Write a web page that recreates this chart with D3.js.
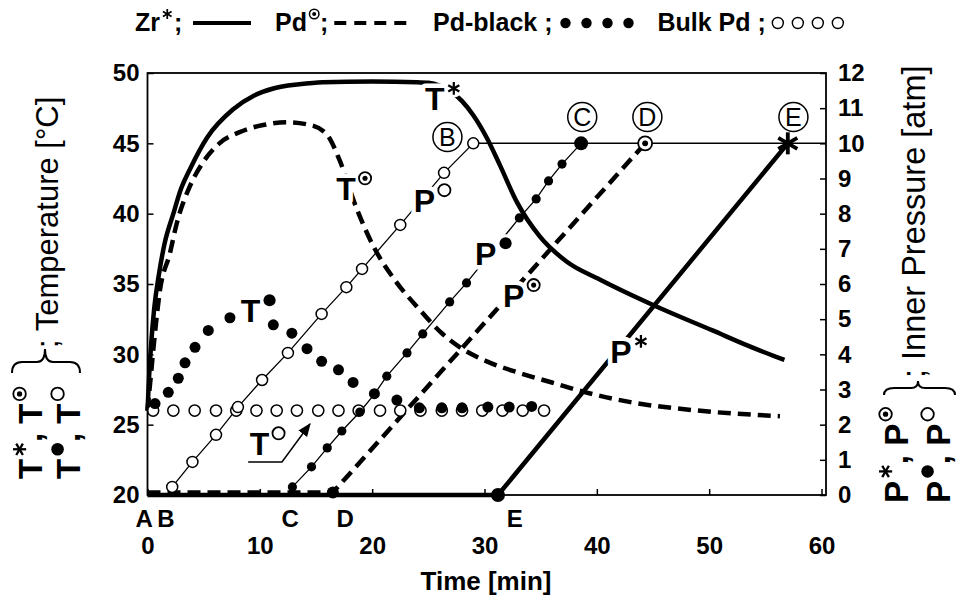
<!DOCTYPE html>
<html lang="en">
<head>
<meta charset="UTF-8">
<title>Temperature and inner pressure vs time</title>
<script src="https://d3js.org/d3.v7.min.js"></script>
<style>
body{margin:0;background:#fff;}
svg{display:block;background:#fff;}
text{font-family:"Liberation Sans",Arial,sans-serif;fill:#000;}
.tick text{font-size:24px;font-weight:bold;}
.tick line{stroke:#000;stroke-width:1.5;}
.halo{stroke:#fff;stroke-width:9;stroke-linejoin:round;paint-order:stroke;}
</style>
</head>
<body>
<svg width="961" height="606"></svg>
<script>
// ---- data ----
const timeTicks = [0, 10, 20, 30, 40, 50, 60];
const tempTicks = [20, 25, 30, 35, 40, 45, 50];
const pressTicks = [0, 1, 2, 3, 4, 5, 6, 7, 8, 9, 10, 11, 12];

// temperature curves [time, degC]
const zrTemp = [[0,26],[0.15,28.5],[0.35,31],[0.6,33.3],[1.0,35.6],[1.5,37.8],[2.3,40.0],[3.0,41.8],[3.8,43.2],
  [5.3,45.4],[7.6,47.4],[9.5,48.4],[11.2,48.9],[13.5,49.2],[15.6,49.35],[20,49.4],[24,49.35],[25,49.3],[26,49.1],
  [27,48.7],[28,48.0],[29,47.0],[30.2,45.4],[31.4,43.4],[32.9,40.8],[34.9,38.4],[37.3,36.6],[40.3,35.3],
  [45.3,33.4],[50.3,31.7],[53.5,30.6],[56.7,29.6]];
const pdTemp = [[0,26],[0.3,28.5],[0.6,31],[1.1,34.5],[2.0,37.2],[2.6,39.3],[3.8,42.0],[4.9,43.6],[6.4,45.0],
  [8.2,45.8],[10.3,46.3],[12.4,46.5],[14.5,46.3],[16,45.6],[17.1,43.8],[18.6,40.4],[20.1,37.7],[22,35.3],
  [24.2,33.2],[26.2,31.5],[28,30.4],[30.2,29.5],[33,28.7],[36,28.0],[39,27.3],[43,26.6],[49,26.0],[56.3,25.6]];
const blackTemp = [[0.67,26.5],[1.85,27.3],[2.74,28.3],[3.34,29.4],[4.23,30.5],[5.41,31.7],[7.34,32.6],
  [11.2,32.1],[12.85,31.5],[14.2,30.4],[15.5,29.5],[17.0,28.9],[18.3,28.0],[20.2,27.2],[22.2,26.75],
  [24.2,26.2],[26.2,26.2],[28.0,26.2],[30.3,26.25],[32.2,26.25],[34.2,26.3]];
const bulkTemp = [[0.5,26],[2.3,26],[4.2,26],[6.1,26],[7.9,26],[9.7,26],[11.5,26],[13.3,26],[15.2,26],[17.0,26],
  [18.8,26],[20.7,26],[22.5,26],[24.3,26],[26.2,26],[28.0,26],[29.8,26],[31.6,26],[33.4,26],[35.3,26]];

// pressure curves [time, atm]
const bulkPress = [[2.2,0.23],[4.0,0.94],[6.1,1.71],[8.05,2.5],[10.2,3.27],[12.5,4.04],[15.5,5.15],[17.7,5.91],
  [19.1,6.43],[22.5,7.68],[26.4,9.16],[29.0,10.0]];
const blackPress = [[12.9,0.23],[14.6,0.8],[16.0,1.34],[17.3,1.82],[18.9,2.36],[20.2,2.87],[21.3,3.38],[23.1,4.04],
  [24.5,4.58],[26.9,5.49],[28.4,6.03],[33.1,7.88],[34.6,8.42],[35.7,8.93],[36.9,9.41],[38.6,10.0]];
const pdPress = [[0,0.07],[16.5,0.07],[44.3,10]];
const zrPress = [[0,0],[31.2,0],[57.0,10]];
const limitLine = [[29.0,10],[60.4,10]];

// start letters under the axis [letter, time] and circled end letters [letter, time, atm]
const startLetters = [["A",-0.3],["B",1.65],["C",12.7],["D",17.6],["E",32.7]];
const endLetters = [["B",26.7,10.18],["C",38.7,10.75],["D",44.5,10.75],["E",57.5,10.75]];

// in-plot labels [letter, mark, time, value, axis]
const curveLabels = [["T","*",24.7,47.36,"T"],["T","d",16.8,40.97,"T"],["T","f",8.3,32.3,"T"],["T","o",9.1,22.84,"T"],
  ["P","o",23.7,8.05,"P"],["P","f",29.15,6.54,"P"],["P","d",31.65,5.35,"P"],["P","*",41.2,3.75,"P"]];
const arrowPts = [[8.96,22.35],[11.97,22.35],[14.46,25.05]];

// ---- scales ----
const svg = d3.select("svg");
const x = d3.scaleLinear().domain([0, 60.4]).range([147.5, 826]);
const yT = d3.scaleLinear().domain([20, 50]).range([495, 73]);
const yP = d3.scaleLinear().domain([0, 12]).range([495, 73]);

svg.append("defs").append("marker").attr("id","arr").attr("viewBox","0 0 10 10")
  .attr("refX",9).attr("refY",5).attr("markerWidth",9).attr("markerHeight",9).attr("orient","auto")
  .append("path").attr("d","M0,1L10,5L0,9z").attr("fill","#000");

function drawMark(g, kind, cx, cy, r, sw) {
  sw = sw || 1.5;
  if (kind === "o") {
    g.append("circle").attr("cx",cx).attr("cy",cy).attr("r",r).attr("fill","#fff").attr("stroke","#000").attr("stroke-width",sw);
  } else if (kind === "f") {
    g.append("circle").attr("cx",cx).attr("cy",cy).attr("r",r).attr("fill","#000");
  } else if (kind === "d") {
    g.append("circle").attr("cx",cx).attr("cy",cy).attr("r",r).attr("fill","#fff").attr("stroke","#000").attr("stroke-width",sw);
    g.append("circle").attr("cx",cx).attr("cy",cy).attr("r",r*0.42).attr("fill","#000");
  } else {
    [90, 30, 150].forEach(a => {
      const dx = r*Math.cos(a*Math.PI/180), dy = r*Math.sin(a*Math.PI/180);
      g.append("line").attr("x1",cx-dx).attr("y1",cy-dy).attr("x2",cx+dx).attr("y2",cy+dy)
        .attr("stroke","#000").attr("stroke-width",Math.max(sw, r*0.35));
    });
  }
}

// letter with a superscript mark, returns end x
function symLabel(g, x0, y0, letter, mark, fs, halo) {
  const t = g.append("text").attr("x",x0).attr("y",y0).attr("font-size",fs).attr("font-weight","bold").text(letter);
  if (halo) t.attr("class","halo");
  const w = t.node().getComputedTextLength();
  const r = fs*0.19;
  const cx = x0 + w + fs*0.1 + r, cy = y0 - fs*0.68;
  if (halo) g.append("circle").attr("cx",cx).attr("cy",cy).attr("r",r+3).attr("fill","#fff");
  drawMark(g, mark, cx, cy, mark === "*" ? r*1.05 : r, fs > 30 ? 1.8 : 1.5);
  return cx + r;
}

// ---- curves ----
const lineT = d3.line().x(d => x(d[0])).y(d => yT(d[1])).curve(d3.curveMonotoneX);
const lineP = d3.line().x(d => x(d[0])).y(d => yP(d[1]));
const plot = svg.append("g");

plot.append("path").datum(limitLine).attr("d",lineP).attr("fill","none").attr("stroke","#000").attr("stroke-width",1.5);
plot.append("path").datum(zrTemp).attr("d",lineT).attr("fill","none").attr("stroke","#000").attr("stroke-width",4.5);
plot.append("path").datum(pdTemp).attr("d",lineT).attr("fill","none").attr("stroke","#000").attr("stroke-width",4.5)
  .attr("stroke-dasharray","13,7");
plot.append("path").datum(bulkPress).attr("d",lineP).attr("fill","none").attr("stroke","#000").attr("stroke-width",1.3);
plot.append("path").datum(blackPress).attr("d",lineP).attr("fill","none").attr("stroke","#000").attr("stroke-width",1.3);
plot.append("path").datum(pdPress).attr("d",lineP).attr("fill","none").attr("stroke","#000").attr("stroke-width",4.5)
  .attr("stroke-dasharray","13,7");
plot.append("path").datum(zrPress).attr("d",lineP).attr("fill","none").attr("stroke","#000").attr("stroke-width",4.5);

plot.selectAll(".bt").data(bulkTemp).join("circle").attr("class","bt")
  .attr("cx",d => x(d[0])).attr("cy",d => yT(d[1])).attr("r",5.6)
  .attr("fill","#fff").attr("stroke","#000").attr("stroke-width",1.5);
plot.selectAll(".bk").data(blackTemp).join("circle").attr("class","bk")
  .attr("cx",d => x(d[0])).attr("cy",d => yT(d[1])).attr("r",5.5).attr("fill","#000");
plot.selectAll(".bp").data(bulkPress).join("circle").attr("class","bp")
  .attr("cx",d => x(d[0])).attr("cy",d => yP(d[1])).attr("r",5.5)
  .attr("fill","#fff").attr("stroke","#000").attr("stroke-width",1.5);
plot.selectAll(".kp").data(blackPress).join("circle").attr("class","kp")
  .attr("cx",d => x(d[0])).attr("cy",d => yP(d[1])).attr("r",(d,i) => i === blackPress.length-1 ? 7 : 4.6)
  .attr("fill","#000");

// start / end markers of the thick pressure lines
drawMark(plot, "f", x(pdPress[1][0]), yP(pdPress[1][1]), 6);
drawMark(plot, "d", x(pdPress[2][0]), yP(pdPress[2][1]), 7, 1.8);
drawMark(plot, "f", x(zrPress[1][0]), yP(zrPress[1][1]), 7);
drawMark(plot, "*", x(zrPress[2][0]), yP(zrPress[2][1]), 11, 3.5);

// arrow to the T(bulk) row
plot.append("path").datum(arrowPts).attr("d",lineT.curve(d3.curveLinear)).attr("fill","none")
  .attr("stroke","#000").attr("stroke-width",1.5).attr("marker-end","url(#arr)");

// curve labels with halo so they break the lines
curveLabels.forEach(d => {
  const yy = d[4] === "T" ? yT(d[3]) : yP(d[3]);
  symLabel(plot, x(d[2]), yy, d[0], d[1], 32, true);
});

// circled end letters
endLetters.forEach(d => {
  const cx = x(d[1]), cy = yP(d[2]);
  plot.append("circle").attr("cx",cx).attr("cy",cy).attr("r",14.5).attr("fill","#fff").attr("stroke","#000").attr("stroke-width",1.5);
  plot.append("text").attr("x",cx).attr("y",cy+9).attr("text-anchor","middle").attr("font-size",25).text(d[0]);
});

// ---- frame and axes ----
svg.append("rect").attr("x",147.5).attr("y",73).attr("width",678.5).attr("height",422)
  .attr("fill","none").attr("stroke","#000").attr("stroke-width",1.8);

svg.append("g").attr("transform",`translate(0,${yT(20)})`)
  .call(d3.axisBottom(x).tickValues(timeTicks).tickSize(-6).tickSizeOuter(0).tickPadding(42))
  .call(g => g.select(".domain").remove());
svg.append("g").attr("transform",`translate(${x(0)},0)`)
  .call(d3.axisLeft(yT).tickValues(tempTicks).tickSize(-6).tickSizeOuter(0).tickPadding(8))
  .call(g => g.select(".domain").remove());
svg.append("g").attr("transform",`translate(826,0)`)
  .call(d3.axisRight(yP).tickValues(pressTicks).tickSize(-6).tickSizeOuter(0).tickPadding(12))
  .call(g => g.select(".domain").remove());
svg.selectAll(".tick text").attr("fill","#000");

startLetters.forEach(d => {
  svg.append("text").attr("x",x(d[1])).attr("y",527).attr("text-anchor","middle")
    .attr("font-size",24).attr("font-weight","bold").text(d[0]);
});

svg.append("text").attr("x",486).attr("y",590).attr("text-anchor","middle")
  .attr("font-size",26).attr("font-weight","bold").text("Time [min]");

// ---- side titles ----
function sideLine(tx, ty, letter, m1, m2, fs) {
  const g = svg.append("g").attr("transform",`translate(${tx},${ty}) rotate(-90)`);
  let cx = symLabel(g, 0, 0, letter, m1, fs, false);
  const c = g.append("text").attr("x",cx + 1).attr("y",0).attr("font-size",fs).attr("font-weight","bold").text(",\u00a0");
  cx = cx + 1 + c.node().getComputedTextLength();
  symLabel(g, cx, 0, letter, m2, fs, false);
}
sideLine(42, 479, "T", "*", "d", 33);
sideLine(80, 479, "T", "f", "o", 33);
svg.append("text").attr("transform","translate(58,348) rotate(-90)").attr("font-size",31).text("; Temperature [°C]");
svg.append("path").attr("d","M12,373 Q12,362 22,362 L37,362 Q45,362 45,349 Q45,362 53,362 L70,362 Q80,362 80,373")
  .attr("fill","none").attr("stroke","#000").attr("stroke-width",2);

sideLine(908, 503, "P", "*", "d", 33);
sideLine(950, 503, "P", "f", "o", 33);
svg.append("text").attr("transform","translate(925,378) rotate(-90)").attr("font-size",32.5).text("; Inner Pressure [atm]");
svg.append("path").attr("d","M884,395 Q884,388 894,388 L911,388 Q918,388 918,381 Q918,388 925,388 L945,388 Q955,388 955,395")
  .attr("fill","none").attr("stroke","#000").attr("stroke-width",2);

// ---- legend ----
const lg = svg.append("g");
const ly = 31, lfs = 25;
let cur = 135;
function lgText(s) {
  const t = lg.append("text").attr("x",cur).attr("y",ly).attr("font-size",lfs).attr("font-weight","bold").text(s);
  cur += t.node().getComputedTextLength();
}
cur = symLabel(lg, cur, ly, "Zr", "*", lfs, false) + 2;
lgText(" ;");
cur = 193;
lg.append("line").attr("x1",cur).attr("x2",cur+58).attr("y1",ly-8).attr("y2",ly-8).attr("stroke","#000").attr("stroke-width",4);
cur = 275;
cur = symLabel(lg, cur, ly, "Pd", "d", lfs, false) + 1;
lgText(";");
cur += 6;
lg.append("line").attr("x1",cur).attr("x2",cur+72).attr("y1",ly-8).attr("y2",ly-8).attr("stroke","#000").attr("stroke-width",4)
  .attr("stroke-dasharray","12,8");
cur = 433;
lgText("Pd-black ;");
cur += 8;
[0,1,2,3].forEach(i => lg.append("circle").attr("cx",cur+5+i*21).attr("cy",ly-8).attr("r",5.2).attr("fill","#000"));
cur += 5 + 3*21 + 5 + 24;
lgText("Bulk Pd ;");
cur += 6;
[0,1,2,3].forEach(i => lg.append("circle").attr("cx",cur+6+i*20).attr("cy",ly-8).attr("r",5.5)
  .attr("fill","#fff").attr("stroke","#000").attr("stroke-width",1.4));
</script>
</body>
</html>
